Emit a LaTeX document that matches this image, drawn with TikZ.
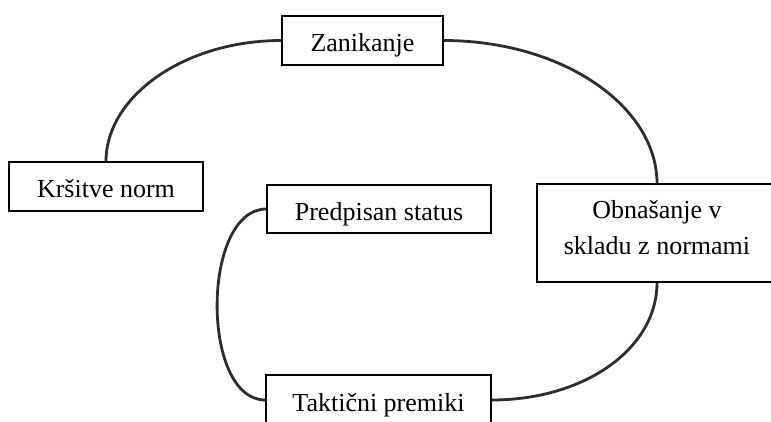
\documentclass[tikz,border=0pt]{standalone}
\usepackage{fontspec}
\setmainfont{Liberation Serif}
\usetikzlibrary{shadows}
\definecolor{linkgray}{RGB}{45,45,45}
\begin{document}
\begin{tikzpicture}[x=1pt,y=-1pt,
  box/.style={draw=black, line width=1.3pt, fill=white, inner sep=0pt,
    font=\fontsize{26}{36}\selectfont,
    drop shadow={shadow xshift=1pt, shadow yshift=-1pt, fill=black, opacity=1}},
  oneline/.style={text height=25pt, text depth=3pt},
  link/.style={draw=linkgray, line width=2.8pt}]
\useasboundingbox (0,0) rectangle (771,421);
\node[box,oneline,minimum width=161pt,minimum height=49pt] (z) at (362.5,40.5) {Zanikanje};
\node[box,oneline,minimum width=194pt,minimum height=49pt] (k) at (106,186.5) {Kršitve norm};
\node[box,oneline,minimum width=224pt,minimum height=48pt] (p) at (379,209) {Predpisan status};
\node[box,align=center,minimum width=240pt,minimum height=98pt] (o) at (657,233) {Obnašanje v\\skladu z normami\rule[-11pt]{0pt}{0pt}};
\node[box,oneline,minimum width=225pt,minimum height=50pt] (t) at (378.5,400) {Taktični premiki};
\draw[link] (z.west) .. controls +(-97,0) and +(0,-65) .. (k.north);
\draw[link] (z.east) .. controls +(119,0) and +(0,-77) .. (o.north);
\draw[link] (o.south) .. controls +(0,66) and +(93,0) .. (t.east);
\draw[link] (p.west) .. controls +(-65,0) and +(-65,0) .. (t.west);
\end{tikzpicture}
\end{document}
